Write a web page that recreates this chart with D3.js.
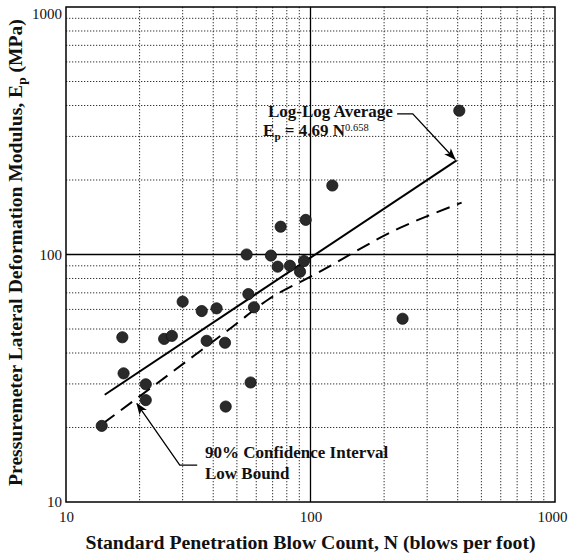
<!DOCTYPE html>
<html>
<head>
<meta charset="utf-8">
<script src="https://cdn.jsdelivr.net/npm/d3@7"></script>
<style>
  html, body { margin: 0; padding: 0; background: #fff; }
  svg { display: block; }
</style>
</head>
<body>
<svg id="chart" width="569" height="558"></svg>
<script>
// Pressuremeter modulus vs. SPT blow count (log-log)
const blowCount = [14.0, 17.0, 17.2, 21.2, 21.2, 25.2, 27.1, 30.0, 35.9, 41.3, 37.6, 44.7, 45.0,
                   55.7, 58.7, 56.9, 54.8, 68.9, 75.5, 95.6, 73.4, 82.4, 94.1, 90.6, 122.8, 406, 238];
const modulus   = [20.3, 46.3, 33.1, 29.9, 25.8, 45.6, 46.9, 64.5, 59.1, 60.6, 44.8, 44.0, 24.3,
                   69.2, 61.2, 30.4, 100, 99, 129.5, 138, 89.3, 90.1, 94.1, 85.2, 190, 381, 55];

// Log-log average fit: Ep = 4.69 N^0.658
const fitCoef = 4.69;
const fitExp = 0.658;
const fitRange = [14.4, 396];

// 90% confidence interval, low bound
const boundN  = [14.2, 31.2, 48.3, 67.2, 101, 232, 415];
const boundEp = [20.8, 37.1, 51.3, 65.8, 81.7, 128, 162];

const xTicks = [10, 100, 1000];
const yTicks = [10, 100, 1000];
const minorMult = [2, 3, 4, 5, 6, 7, 8, 9];

const W = 569, H = 558;
const plot = { left: 66, right: 555, top: 7, bottom: 502 };

const svg = d3.select("#chart");
svg.append("rect").attr("width", W).attr("height", H).attr("fill", "#fff");

const x = d3.scaleLog().domain([10, 1000]).range([plot.left, plot.right]);
const y = d3.scaleLog().domain([10, 1000]).range([plot.bottom, plot.top]);

const FONT = '"Liberation Serif", "Times New Roman", Times, serif';

// ---- grid ----
const minorVals = [];
[10, 100].forEach(d => minorMult.forEach(m => minorVals.push(d * m)));

const grid = svg.append("g");
grid.selectAll("line.vx").data(minorVals).join("line")
  .attr("x1", d => x(d)).attr("x2", d => x(d))
  .attr("y1", plot.top).attr("y2", plot.bottom)
  .attr("stroke", "#333").attr("stroke-width", 1)
  .attr("stroke-dasharray", "1.3,1.7");
grid.selectAll("line.hy").data(minorVals).join("line")
  .attr("y1", d => y(d)).attr("y2", d => y(d))
  .attr("x1", plot.left).attr("x2", plot.right)
  .attr("stroke", "#333").attr("stroke-width", 1)
  .attr("stroke-dasharray", "1.3,1.7");

// major decade lines
grid.append("line")
  .attr("x1", x(100)).attr("x2", x(100)).attr("y1", plot.top).attr("y2", plot.bottom)
  .attr("stroke", "#000").attr("stroke-width", 1.3);
grid.append("line")
  .attr("y1", y(100)).attr("y2", y(100)).attr("x1", plot.left).attr("x2", plot.right)
  .attr("stroke", "#000").attr("stroke-width", 1.3);

// frame
svg.append("rect")
  .attr("x", plot.left).attr("y", plot.top)
  .attr("width", plot.right - plot.left).attr("height", plot.bottom - plot.top)
  .attr("fill", "none").attr("stroke", "#000").attr("stroke-width", 1.5);

// ---- axes (labels only) ----
const xAxis = svg.append("g")
  .attr("transform", `translate(0,${plot.bottom})`)
  .call(d3.axisBottom(x).tickValues(xTicks).tickSize(0).tickPadding(9).tickFormat(d3.format("d")));
const yAxis = svg.append("g")
  .attr("transform", `translate(${plot.left},0)`)
  .call(d3.axisLeft(y).tickValues(yTicks).tickSize(0).tickPadding(4).tickFormat(d3.format("d")));
[xAxis, yAxis].forEach(a => {
  a.select(".domain").remove();
  a.selectAll("text").attr("font-family", FONT).attr("font-size", 15).attr("fill", "#111");
});
xAxis.selectAll(".tick").filter(d => d === 1000).select("text").attr("dx", -3);
yAxis.selectAll(".tick").filter(d => d === 1000).select("text").attr("dy", "0.75em");

// ---- fit line ----
const fit = n => fitCoef * Math.pow(n, fitExp);
const fitPts = fitRange.map(n => [n, fit(n)]);
const lineGen = d3.line().x(d => x(d[0])).y(d => y(d[1]));
svg.append("path")
  .attr("d", lineGen(fitPts))
  .attr("fill", "none").attr("stroke", "#000").attr("stroke-width", 2);

// ---- lower bound (dashed) ----
const boundPts = boundN.map((n, i) => [n, boundEp[i]]);
svg.append("path")
  .attr("d", d3.line().x(d => x(d[0])).y(d => y(d[1])).curve(d3.curveMonotoneX)(boundPts))
  .attr("fill", "none").attr("stroke", "#000").attr("stroke-width", 2)
  .attr("stroke-dasharray", "14,8");

// ---- data points ----
svg.append("g").selectAll("circle")
  .data(blowCount.map((n, i) => [n, modulus[i]]))
  .join("circle")
  .attr("cx", d => x(d[0])).attr("cy", d => y(d[1]))
  .attr("r", 5.6)
  .attr("fill", "#2a2a2a").attr("stroke", "#111").attr("stroke-width", 0.8);

// ---- annotations ----
svg.append("defs").append("marker")
  .attr("id", "arrow").attr("viewBox", "0 -5 12 10")
  .attr("refX", 11).attr("refY", 0)
  .attr("markerWidth", 12).attr("markerHeight", 10)
  .attr("markerUnits", "userSpaceOnUse")
  .attr("orient", "auto")
  .append("path").attr("d", "M0,-4.5 L12,0 L0,4.5 L3,0 Z").attr("fill", "#000");

const annot = svg.append("g").attr("font-family", FONT).attr("font-weight", "bold")
  .attr("font-size", 17).attr("fill", "#111");

// Log-Log Average label
annot.append("text").attr("x", x(67)).attr("y", y(359)).text("Log-Log Average");
const eq = annot.append("text").attr("x", x(64)).attr("y", y(300));
eq.append("tspan").text("E");
eq.append("tspan").attr("font-size", 11).attr("dy", 4).text("p");
eq.append("tspan").attr("dy", -4).text(" = 4.69 N");
eq.append("tspan").attr("font-size", 10.5).attr("dy", -5).attr("font-weight", "normal").text("0.658");

const tipAvg = [fitRange[1], fit(fitRange[1])];
svg.append("path")
  .attr("d", lineGen([[226, 370], [262, 370], [tipAvg[0] * 0.985, tipAvg[1] * 1.01]]))
  .attr("fill", "none").attr("stroke", "#000").attr("stroke-width", 1.3)
  .attr("marker-end", "url(#arrow)");

// Confidence interval label
annot.append("text").attr("x", x(37)).attr("y", y(15.06)).text("90% Confidence Interval");
annot.append("text").attr("x", x(37)).attr("y", y(12.4)).text("Low Bound");
svg.append("path")
  .attr("d", lineGen([[34.4, 14.1], [29.2, 14.1], [19.5, 25.0]]))
  .attr("fill", "none").attr("stroke", "#000").attr("stroke-width", 1.3)
  .attr("marker-end", "url(#arrow)");

// ---- axis titles ----
svg.append("text")
  .attr("x", (plot.left + plot.right) / 2).attr("y", 549)
  .attr("text-anchor", "middle")
  .attr("font-family", FONT).attr("font-weight", "bold").attr("font-size", 19.8).attr("fill", "#111")
  .text("Standard Penetration Blow Count, N (blows per foot)");

const yt = svg.append("text")
  .attr("transform", `translate(22,${(plot.top + plot.bottom) / 2 - 2}) rotate(-90)`)
  .attr("text-anchor", "middle")
  .attr("font-family", FONT).attr("font-weight", "bold").attr("font-size", 19.6).attr("fill", "#111");
yt.append("tspan").text("Pressuremeter Lateral Deformation Modulus, E");
yt.append("tspan").attr("font-size", 13.5).attr("dy", 4).text("p");
yt.append("tspan").attr("dy", -4).text(" (MPa)");
</script>
</body>
</html>
